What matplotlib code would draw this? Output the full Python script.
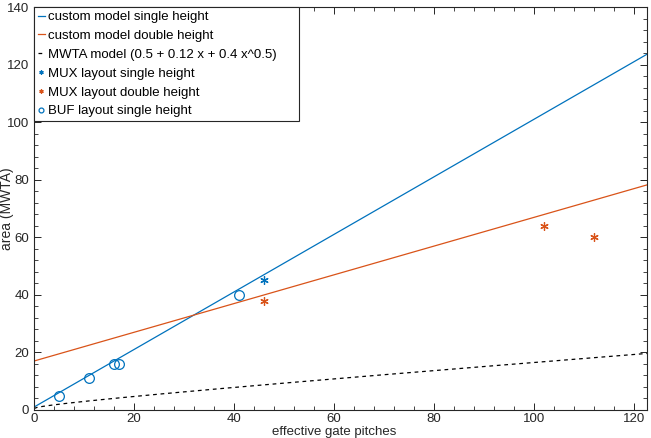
import numpy as np
import matplotlib.pyplot as plt
from matplotlib.ticker import MultipleLocator

plt.rcParams['font.family'] = ['Liberation Sans', 'DejaVu Sans']

# model lines (endpoints)
single_x = [0, 122.6]
single_y = [1.0, 123.6]
double_x = [0, 122.6]
double_y = [17.0, 78.2]

# MWTA model coefficients from the legend
mwta_a, mwta_b, mwta_c = 0.5, 0.12, 0.4

# measured layouts
mux_single_x = [46]
mux_single_y = [45]
mux_double_x = [46, 102, 112]
mux_double_y = [38, 64, 60]
buf_single_x = [5, 11, 16, 17, 41]
buf_single_y = [5, 11, 16, 16, 40]

blue = '#0072BD'
orange = '#D95319'
axcol = '#262626'

fig = plt.figure(figsize=(6.51, 4.38), dpi=100)
ax = fig.add_axes([0.0522, 0.064, 0.9417, 0.92])

xm = np.linspace(0, 122.6, 200)
ym = mwta_a + mwta_b * xm + mwta_c * np.sqrt(xm)

ax.plot(single_x, single_y, color=blue, lw=0.9, label='custom model single height')
ax.plot(double_x, double_y, color=orange, lw=0.9, label='custom model double height')
ax.plot(xm, ym, color='black', lw=0.9, ls=(0, (3, 3)),
        label='MWTA model (0.5 + 0.12 x + 0.4 x^0.5)')
ax.plot(mux_single_x, mux_single_y, ls='none', marker=(6, 2, 0), ms=6,
        mec=blue, mew=0.9, label='MUX layout single height')
ax.plot(mux_double_x, mux_double_y, ls='none', marker=(6, 2, 0), ms=6,
        mec=orange, mew=0.9, label='MUX layout double height')
ax.plot(buf_single_x, buf_single_y, ls='none', marker='o', ms=7, mfc='none',
        mec=blue, mew=0.9, label='BUF layout single height')

ax.set_xlim(0, 122.6)
ax.set_ylim(0, 140)
ax.xaxis.set_major_locator(MultipleLocator(20))
ax.xaxis.set_minor_locator(MultipleLocator(4))
ax.yaxis.set_major_locator(MultipleLocator(20))
ax.yaxis.set_minor_locator(MultipleLocator(4))
ax.tick_params(which='both', direction='in', top=True, right=True,
               colors=axcol, labelsize=9.5)
ax.tick_params(which='major', length=5, width=0.7)
ax.tick_params(which='minor', length=3, width=0.6)
ax.tick_params(axis='x', pad=2)
for s in ax.spines.values():
    s.set_color(axcol)
    s.set_linewidth(0.8)

ax.set_xlabel('effective gate pitches', fontsize=9.5, color=axcol)
ax.set_ylabel('area (MWTA)', fontsize=10, color=axcol)
# place the axis labels in pixel terms, right at the figure edges
ax.xaxis.set_label_coords(0.49, -22.5 / 403)
ax.yaxis.set_label_coords(-27 / 613, 0.5)
ax.xaxis.label.set_va('center')
ax.yaxis.label.set_va('center')

leg = ax.legend(loc='upper left', bbox_to_anchor=(0, 0, 265 / 613, 1),
                mode='expand', borderaxespad=0, fontsize=9.5,
                handlelength=0.5, handletextpad=0.25, markerscale=0.5,
                fancybox=False, edgecolor=axcol, framealpha=1,
                borderpad=0.3, labelspacing=0.5)
leg.get_frame().set_linewidth(0.8)

fig.savefig('out.png', dpi=100)
